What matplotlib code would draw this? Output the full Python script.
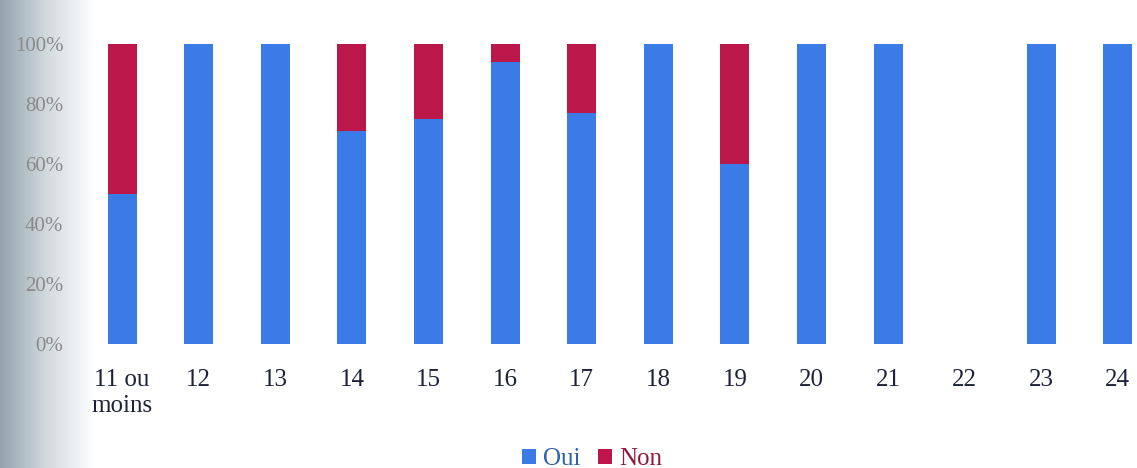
import numpy as np
import matplotlib
matplotlib.use('Agg')
import matplotlib.pyplot as plt
from matplotlib.colors import LinearSegmentedColormap

# Data
categories = ['11 ou\nmoins', '12', '13', '14', '15', '16', '17', '18', '19',
              '20', '21', '22', '23', '24']
oui = [0.50, 1.00, 1.00, 0.71, 0.75, 0.94, 0.77, 1.00, 0.60,
       1.00, 1.00, 0.00, 1.00, 1.00]
non = [0.50, 0.00, 0.00, 0.29, 0.25, 0.06, 0.23, 0.00, 0.40,
       0.00, 0.00, 0.00, 0.00, 0.00]
y_ticks = [0, 0.2, 0.4, 0.6, 0.8, 1.0]
y_labels = ['0%', '20%', '40%', '60%', '80%', '100%']

BLUE = '#3b7be8'
RED = '#bc174a'

fig = plt.figure(figsize=(11.37, 4.68), dpi=100)
fig.patch.set_facecolor('white')

# grey scan shading on the left edge
bg = fig.add_axes([0, 0, 95 / 1137, 1])
grad = np.linspace(0, 1, 256).reshape(1, -1)
cmap = LinearSegmentedColormap.from_list('scan', ['#93a3ad', '#d3dbdf', '#ffffff'])
bg.imshow(grad, aspect='auto', cmap=cmap, extent=[0, 1, 0, 1])
bg.axis('off')

ax = fig.add_axes([80 / 1137, 1 - 344 / 468, 1 - 80 / 1137, 300 / 468])
ax.set_facecolor('none')

x = np.arange(len(categories))
ax.bar(x, oui, width=0.38, color=BLUE, label='Oui')
ax.bar(x, non, width=0.38, bottom=oui, color=RED, label='Non')

ax.set_xlim(-0.55, 13.25)
ax.set_ylim(0, 1.0)
ax.set_yticks(y_ticks)
ax.set_yticklabels(y_labels, family='Liberation Serif', fontsize=15, color='#8a8a8a')
ax.set_xticks(x)
ax.set_xticklabels(categories, family='Liberation Serif', fontsize=18,
                   color='#1e2238', linespacing=1.25)
ax.tick_params(axis='both', length=0)
ax.tick_params(axis='x', pad=18)
ax.tick_params(axis='y', pad=12)
for s in ax.spines.values():
    s.set_visible(False)

leg = fig.legend(loc='center', bbox_to_anchor=(592 / 1137, 1 - 459 / 468),
                 ncol=2, frameon=False, handlelength=0.55, handleheight=0.55,
                 handletextpad=0.3, columnspacing=0.7,
                 prop={'family': 'Liberation Serif', 'size': 18})
for txt, col in zip(leg.get_texts(), ['#2d5fae', '#8c1c3c']):
    txt.set_color(col)

fig.savefig('out.png', dpi=100, facecolor='white')
